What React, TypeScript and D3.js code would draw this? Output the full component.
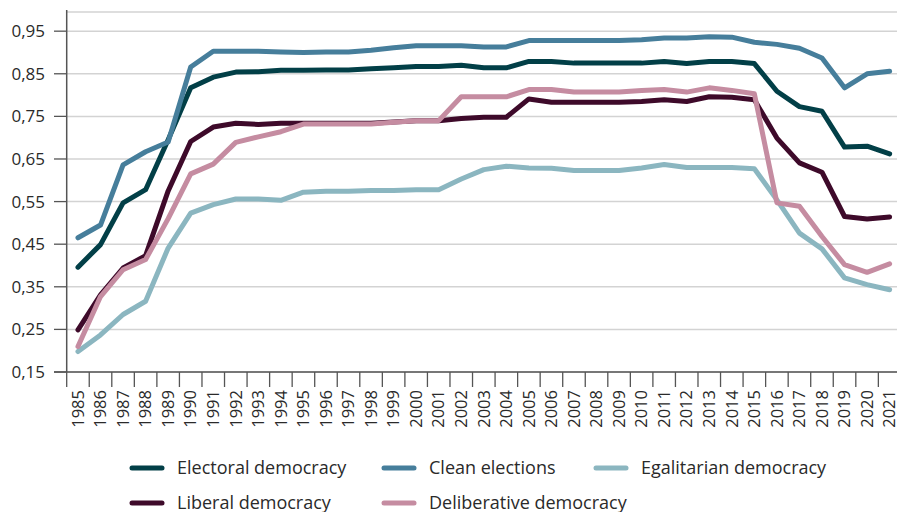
import React from "react";
import * as d3 from "d3";

const years = ["1985","1986","1987","1988","1989","1990","1991","1992","1993","1994","1995","1996","1997","1998","1999","2000","2001","2002","2003","2004","2005","2006","2007","2008","2009","2010","2011","2012","2013","2014","2015","2016","2017","2018","2019","2020","2021"];

const electoral = [0.396,0.449,0.547,0.578,0.695,0.817,0.842,0.854,0.855,0.858,0.858,0.859,0.859,0.862,0.864,0.867,0.867,0.870,0.864,0.864,0.879,0.879,0.875,0.875,0.875,0.875,0.879,0.874,0.879,0.879,0.874,0.809,0.773,0.762,0.678,0.680,0.662];
const clean = [0.465,0.495,0.636,0.667,0.690,0.866,0.903,0.903,0.903,0.901,0.900,0.901,0.901,0.905,0.911,0.916,0.916,0.916,0.913,0.913,0.928,0.928,0.928,0.928,0.928,0.930,0.934,0.934,0.937,0.936,0.924,0.919,0.910,0.887,0.817,0.850,0.856];
const egalitarian = [0.198,0.237,0.285,0.316,0.441,0.523,0.543,0.556,0.556,0.553,0.572,0.574,0.574,0.576,0.576,0.578,0.578,0.603,0.625,0.633,0.629,0.628,0.623,0.623,0.623,0.629,0.637,0.630,0.630,0.630,0.627,0.554,0.476,0.439,0.371,0.355,0.343];
const liberal = [0.249,0.331,0.394,0.423,0.575,0.691,0.725,0.734,0.731,0.734,0.734,0.734,0.734,0.734,0.737,0.740,0.740,0.745,0.748,0.748,0.791,0.783,0.783,0.783,0.783,0.785,0.789,0.785,0.796,0.795,0.789,0.699,0.641,0.619,0.515,0.509,0.514];
const deliberative = [0.210,0.327,0.390,0.414,0.510,0.615,0.638,0.689,0.702,0.714,0.732,0.732,0.732,0.732,0.736,0.740,0.740,0.796,0.796,0.796,0.813,0.813,0.807,0.807,0.807,0.811,0.813,0.807,0.817,0.811,0.803,0.547,0.539,0.468,0.402,0.384,0.404];

const yTicks = [0.15, 0.25, 0.35, 0.45, 0.55, 0.65, 0.75, 0.85, 0.95];
const yMax = 0.995;

const seriesNames = ["Electoral democracy", "Clean elections", "Egalitarian democracy", "Liberal democracy", "Deliberative democracy"];
const seriesColors = ["#023f47", "#467e9b", "#8bb6c0", "#3e0a2a", "#c58ca1"];
const seriesData = [electoral, clean, egalitarian, liberal, deliberative];

const W = 897, H = 512;
const FONT = "'Open Sans', 'Noto Sans', sans-serif";

export default function App() {
  const x = d3.scaleBand<string>().domain(years).range([66.7, 900.9]).padding(0);
  const y = d3.scaleLinear().domain([0.15, yMax]).range([372, 12]);
  const line = d3.line<number>()
    .x((_, i) => (x(years[i]) as number) + x.bandwidth() / 2)
    .y((d) => y(d));
  const fmt = (v: number) => v.toFixed(2).replace(".", ",");

  const legendRows = [
    [0, 1, 2],
    [3, 4],
  ];
  const legendCols = [130, 382, 594];
  const legendRowY = [468, 503];

  return (
    <svg width={W} height={H} style={{ position: "absolute", left: 0, top: 0, background: "#fff" }} fontFamily={FONT}>
      {yTicks.concat([yMax]).map((t) => (
        <line key={"g" + t} x1={x.range()[0]} x2={W} y1={y(t)} y2={y(t)} stroke="#d3d3d3" strokeWidth={1.5} />
      ))}
      {yTicks.map((t) => (
        <g key={"yt" + t}>
          <line x1={54} x2={x.range()[0]} y1={y(t)} y2={y(t)} stroke="#555" strokeWidth={1.3} />
          <text x={45} y={y(t)} dy="0.35em" textAnchor="end" fontSize={17} fill="#2a2a2a">{fmt(t)}</text>
        </g>
      ))}
      <line x1={x.range()[0]} x2={x.range()[0]} y1={y(yMax) - 2} y2={y(0.15)} stroke="#555" strokeWidth={1.5} />
      <line x1={54} x2={W} y1={y(0.15)} y2={y(0.15)} stroke="#555" strokeWidth={1.5} />
      {years.map((yr) => (
        <line key={"xt" + yr} x1={x(yr) as number} x2={x(yr) as number} y1={y(0.15)} y2={y(0.15) + 15} stroke="#555" strokeWidth={1.3} />
      ))}
      {years.map((yr) => {
        const cx = (x(yr) as number) + x.bandwidth() / 2;
        const ty = y(0.15) + 18;
        return (
          <text key={"xl" + yr} transform={`translate(${cx},${ty}) rotate(-90)`} textAnchor="end" dy="0.35em" fontSize={16.5} fill="#2a2a2a">{yr}</text>
        );
      })}
      {seriesData.map((d, i) => (
        <path key={"s" + i} d={line(d) as string} fill="none" stroke={seriesColors[i]} strokeWidth={5} strokeLinejoin="round" strokeLinecap="round" />
      ))}
      {legendRows.map((row, ri) =>
        row.map((si, ci) => (
          <g key={"lg" + si} transform={`translate(${legendCols[ci]},${legendRowY[ri]})`}>
            <line x1={2} x2={32} y1={0} y2={0} stroke={seriesColors[si]} strokeWidth={5} strokeLinecap="round" />
            <text x={47} y={0} dy="0.35em" fontSize={18} fill="#2a2a2a">{seriesNames[si]}</text>
          </g>
        ))
      )}
    </svg>
  );
}
